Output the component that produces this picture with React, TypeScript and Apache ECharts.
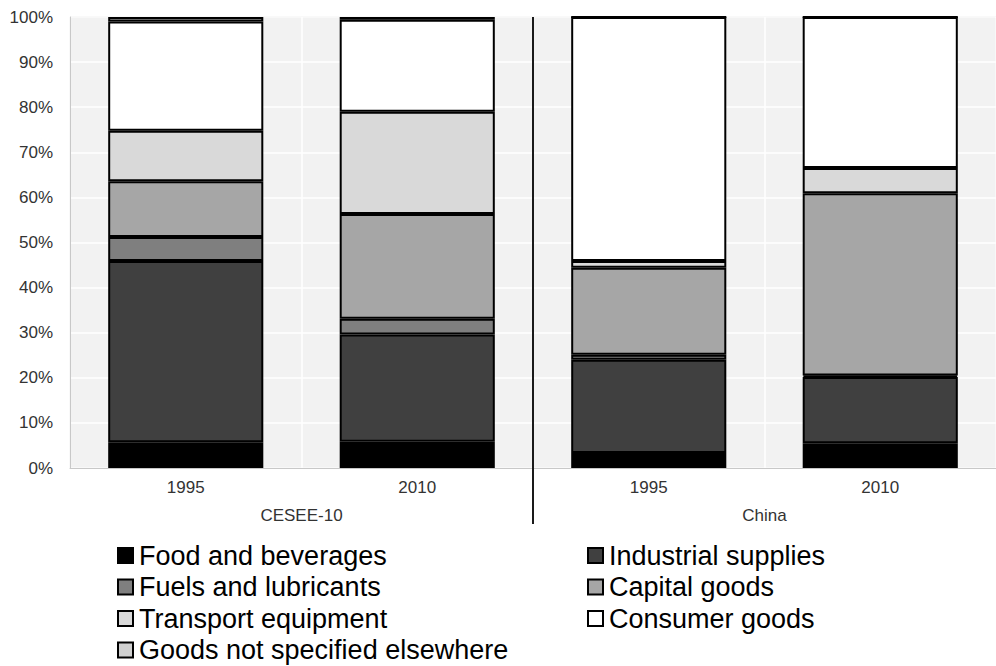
import React, { useEffect, useRef } from "react";
import * as echarts from "echarts";

const groups = ["CESEE-10", "China"];
const categories = ["CESEE-10|1995", "CESEE-10|2010", "China|1995", "China|2010"];
const yTicks = [0, 10, 20, 30, 40, 50, 60, 70, 80, 90, 100];

const seriesNames = [
  "Food and beverages",
  "Industrial supplies",
  "Fuels and lubricants",
  "Capital goods",
  "Transport equipment",
  "Consumer goods",
  "Goods not specified elsewhere",
];
const food = [5.7, 5.8, 3.3, 5.5];
const industrial = [40.2, 23.8, 20.7, 14.7];
const fuels = [5.3, 3.5, 1.1, 0.3];
const capital = [12.4, 23.2, 19.3, 40.4];
const transport = [11.2, 22.7, 1.5, 5.6];
const consumer = [24.2, 20.4, 54.1, 33.5];
const notSpecified = [1.0, 0.6, 0.0, 0.0];

const seriesData = [food, industrial, fuels, capital, transport, consumer, notSpecified];
const colors = ["#000000", "#404040", "#7f7f7f", "#a6a6a6", "#d9d9d9", "#ffffff", "#cfcfcf"];

const legendLeft = [seriesNames[0], seriesNames[2], seriesNames[4], seriesNames[6]];
const legendRight = [seriesNames[1], seriesNames[3], seriesNames[5]];

export default function App() {
  const ref = useRef<HTMLDivElement>(null);
  useEffect(() => {
    if (!ref.current) return;
    const chart = echarts.init(ref.current, null, { renderer: "svg" });
    const font = "Liberation Sans, Arial, sans-serif";
    const legendCommon = {
      orient: "vertical",
      top: 542,
      height: 124,
      padding: 0,
      itemWidth: 15,
      itemHeight: 15,
      itemGap: 4.5,
      icon: "rect",
      textStyle: { fontSize: 27, lineHeight: 27, color: "#000", fontFamily: font, padding: [0, 0, 0, 1] },
      selectedMode: false,
    };
    chart.setOption({
      animation: false,
      backgroundColor: "#ffffff",
      color: colors,
      textStyle: { fontFamily: font },
      grid: {
        left: 70,
        top: 17,
        right: -10,
        bottom: 198,
        show: true,
        backgroundColor: "#f2f2f2",
        borderColor: "#d0d0d0",
        borderWidth: 1,
        containLabel: false,
      },
      legend: [
        { ...legendCommon, left: 117, data: legendLeft },
        { ...legendCommon, left: 587, data: legendRight },
      ],
      xAxis: [
        {
          type: "category",
          data: categories,
          position: "bottom",
          axisLine: { show: true, lineStyle: { color: "#c8c8c8", width: 1 } },
          axisTick: { show: false },
          axisLabel: {
            margin: 11,
            fontSize: 17,
            color: "#333",
            formatter: (v: string) => v.split("|")[1],
          },
          splitLine: { show: true, lineStyle: { color: "#ffffff", width: 1.5 } },
        },
        {
          type: "category",
          data: groups,
          position: "bottom",
          offset: 28,
          axisLine: { show: false },
          axisTick: { show: false },
          axisLabel: { margin: 11, fontSize: 17, color: "#333" },
          splitLine: { show: false },
        },
      ],
      yAxis: {
        type: "value",
        min: yTicks[0],
        max: yTicks[yTicks.length - 1],
        interval: 10,
        axisLine: { show: true, lineStyle: { color: "#c8c8c8", width: 1 } },
        axisTick: { show: false },
        axisLabel: { margin: 17, fontSize: 17, color: "#333", formatter: "{value}%" },
        splitLine: { show: true, lineStyle: { color: "#ffffff", width: 1.5 } },
      },
      series: seriesNames.map((name, i) => ({
        name,
        type: "bar",
        stack: "total",
        xAxisIndex: 0,
        barWidth: "67%",
        data: seriesData[i],
        itemStyle: { color: colors[i], borderColor: "#000", borderWidth: 2 },
        emphasis: { disabled: true },
      })),
    });

    const c1 = chart.convertToPixel({ xAxisIndex: 0 }, categories[1]) as number;
    const c2 = chart.convertToPixel({ xAxisIndex: 0 }, categories[2]) as number;
    const yTop = chart.convertToPixel({ yAxisIndex: 0 }, yTicks[yTicks.length - 1]) as number;
    const yBottom = chart.convertToPixel({ yAxisIndex: 0 }, yTicks[0]) as number;
    const xDiv = (c1 + c2) / 2;
    chart.setOption({
      graphic: [
        {
          type: "line",
          shape: { x1: xDiv, y1: yTop, x2: xDiv, y2: yBottom + 56 },
          style: { stroke: "#1a1a1a", lineWidth: 2 },
          z: 100,
        },
      ],
    });

    return () => chart.dispose();
  }, []);
  return (
    <div
      ref={ref}
      style={{ position: "fixed", left: 0, top: 0, width: 996, height: 666 }}
    />
  );
}
